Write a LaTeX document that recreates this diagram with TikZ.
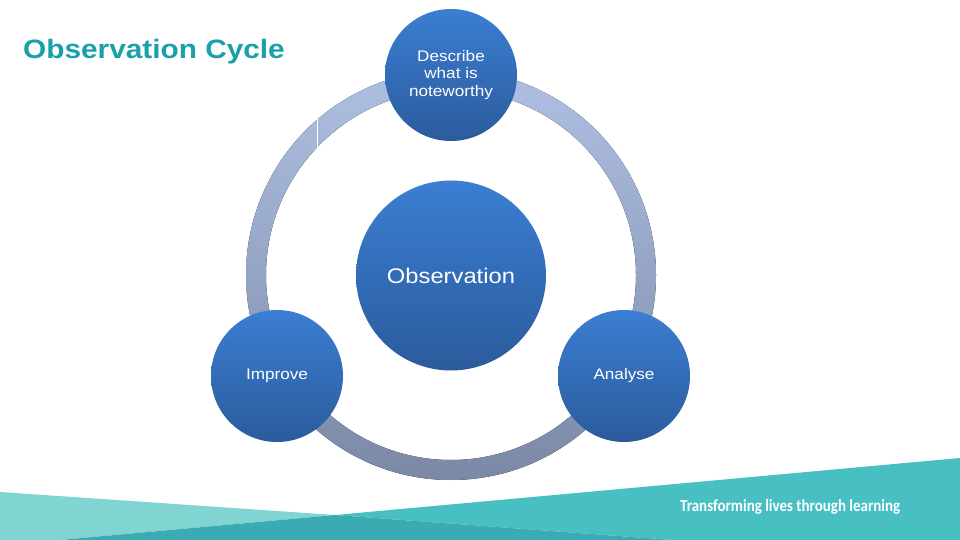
\documentclass[tikz,border=0pt]{standalone}
\usepackage{fontspec}
\setmainfont{Liberation Sans}
\newfontfamily\widefont[FakeStretch=1.12]{Liberation Sans}
\newfontfamily\taglinefont[FakeStretch=0.88]{Carlito}

\definecolor{titleteal}{HTML}{19A0A8}
\definecolor{ringtop}{HTML}{AEC0E2}
\definecolor{ringbot}{HTML}{7B88A6}
\definecolor{balltop}{HTML}{3B7ED2}
\definecolor{ballbot}{HTML}{2B5B9C}
\definecolor{tealL}{HTML}{80D4D1}
\definecolor{tealM}{HTML}{47BFC3}
\definecolor{tealD}{HTML}{3AABB2}

\begin{document}
\begin{tikzpicture}[x=1pt,y=-1pt,
  ball/.style={circle, minimum size=#1, inner sep=0pt, top color=balltop, bottom color=ballbot,
    text=white, font=\widefont\fontsize{15.3}{17.5}\selectfont, align=center},
  ringstyle/.style={top color=ringtop, bottom color=ringbot, even odd rule}]
\useasboundingbox[fill=white] (0,0) rectangle (960,540);

% bottom band
\fill[tealL] (0,492) -- (335,515) -- (60,540) -- (0,540) -- cycle;
\fill[tealM] (335,515) -- (960,458) -- (960,540) -- (673,540) -- cycle;
\fill[tealD] (60,540) -- (335,515) -- (673,540) -- cycle;

% ring
\coordinate (C) at (451,275);
\fill[ringstyle] (C) circle[radius=205pt] (C) circle[radius=185pt];
\draw[white, line width=1pt] (317,119) -- (317,148);

% circles
\node[ball=132pt] (describe) at (451,75) {Describe\\what is\\noteworthy};
\node[ball=190pt, font=\widefont\fontsize{21.2}{24}\selectfont] (obs) at (451,275.5) {Observation};
\node[ball=132pt] (improve) at (277,376) {Improve};
\node[ball=132pt] (analyse) at (624,376) {Analyse};

% texts
\node[anchor=base west, inner sep=0pt, text=titleteal, font=\widefont\bfseries\fontsize{26.6}{30}\selectfont] (title) at (23,59) {Observation Cycle};
\node[anchor=base west, inner sep=0pt, text=white, font=\taglinefont\bfseries\fontsize{17}{20}\selectfont] (tagline) at (680,511) {Transforming lives through learning};
\end{tikzpicture}
\end{document}
